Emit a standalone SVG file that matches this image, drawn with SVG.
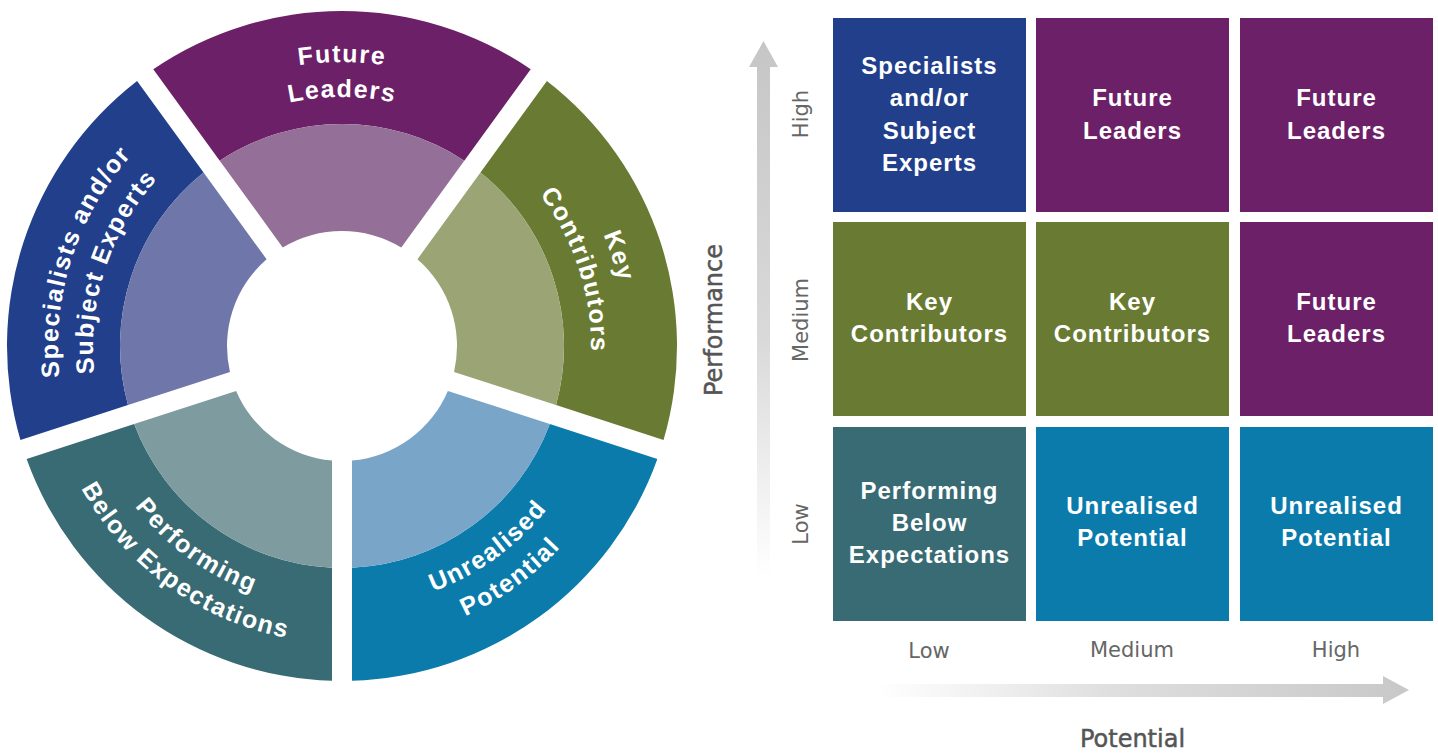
<svg xmlns="http://www.w3.org/2000/svg" width="1438" height="755" viewBox="0 0 1438 755">
<defs>
<style>
.w { font-family: "Liberation Sans", Arial, sans-serif; font-weight: bold; fill: #ffffff; }
.wheel { font-size: 25px; letter-spacing: 1.5px; text-anchor: middle; }
.cell { font-size: 24px; letter-spacing: 1px; text-anchor: middle; }
.ax { font-family: "DejaVu Sans", sans-serif; font-size: 21px; fill: #666666; text-anchor: middle; }
.axt { font-family: "DejaVu Sans", sans-serif; font-size: 24px; fill: #555555; stroke: #555555; stroke-width: 0.5px; text-anchor: middle; }
</style>
<path id="dark" d="M -188.73,-276.78 A 335 335 0 0 1 188.73,-276.78 L 122.27,-185.30 A 222 222 0 0 0 -122.27,-185.30 Z"/>
<path id="light" d="M -122.27,-185.30 A 222 222 0 0 1 122.27,-185.30 L 59.25,-98.56 A 115 115 0 0 0 -59.25,-98.56 Z"/>
<path id="tOut1" d="M -245.95,-142 A 284 284 0 0 1 245.95,-142"/>
<path id="tOut2" d="M -215.64,-124.5 A 249 249 0 0 1 215.64,-124.5"/>
<path id="tIn1" d="M 226.90,-131 A 262 262 0 0 0 -226.90,-131"/>
<path id="tIn2" d="M 257.21,-148.5 A 297 297 0 0 0 -257.21,-148.5"/>
<linearGradient id="gv" x1="0" y1="42" x2="0" y2="578" gradientUnits="userSpaceOnUse">
<stop offset="0" stop-color="#c6c6c6"/>
<stop offset="0.55" stop-color="#d9d9d9"/>
<stop offset="1" stop-color="#ffffff"/>
</linearGradient>
<linearGradient id="gh" x1="878" y1="0" x2="1409" y2="0" gradientUnits="userSpaceOnUse">
<stop offset="0" stop-color="#ffffff"/>
<stop offset="0.45" stop-color="#dedede"/>
<stop offset="1" stop-color="#c8c8c8"/>
</linearGradient>
</defs>
<rect width="1438" height="755" fill="#ffffff"/>

<g id="wheel">
<g id="seg-future-leaders" transform="translate(342,346)">
<use href="#dark" fill="#6b2067"/>
<use href="#light" fill="#946f97"/>
<text class="w wheel"><textPath href="#tOut1" startOffset="50%">Future</textPath></text>
<text class="w wheel"><textPath href="#tOut2" startOffset="50%">Leaders</textPath></text>
</g>
<g id="seg-key-contributors" transform="translate(342,346) rotate(72)">
<use href="#dark" fill="#697b32"/>
<use href="#light" fill="#9aa474"/>
<text class="w wheel"><textPath href="#tOut1" startOffset="50%">Key</textPath></text>
<text class="w wheel"><textPath href="#tOut2" startOffset="50%">Contributors</textPath></text>
</g>
<g id="seg-unrealised-potential" transform="translate(342,346) rotate(144)">
<use href="#dark" fill="#0b7bab"/>
<use href="#light" fill="#79a5c9"/>
<text class="w wheel"><textPath href="#tIn1" startOffset="50%">Unrealised</textPath></text>
<text class="w wheel"><textPath href="#tIn2" startOffset="50%">Potential</textPath></text>
</g>
<g id="seg-performing-below" transform="translate(342,346) rotate(216)">
<use href="#dark" fill="#386b74"/>
<use href="#light" fill="#7e9ba0"/>
<text class="w wheel"><textPath href="#tIn1" startOffset="50%">Performing</textPath></text>
<text class="w wheel"><textPath href="#tIn2" startOffset="50%">Below Expectations</textPath></text>
</g>
<g id="seg-specialists" transform="translate(342,346) rotate(288)">
<use href="#dark" fill="#213f8b"/>
<use href="#light" fill="#6f76a9"/>
<text class="w wheel"><textPath href="#tOut1" startOffset="50%">Specialists and/or</textPath></text>
<text class="w wheel"><textPath href="#tOut2" startOffset="50%">Subject Experts</textPath></text>
</g>
</g>

<g id="axes">
<path d="M763.5,41 L778,67 L770,67 L770,578 L757,578 L757,67 L749,67 Z" fill="url(#gv)"/>
<path d="M878,684 L1383,684 L1383,676 L1409,690 L1383,704 L1383,697 L878,697 Z" fill="url(#gh)"/>
<text class="axt" transform="translate(722,320) rotate(-90)">Performance</text>
<text class="ax" transform="translate(808,114) rotate(-90)">High</text>
<text class="ax" transform="translate(808,320) rotate(-90)">Medium</text>
<text class="ax" transform="translate(808,524) rotate(-90)">Low</text>
<text class="ax" x="929" y="658">Low</text>
<text class="ax" x="1132" y="657">Medium</text>
<text class="ax" x="1336" y="657">High</text>
<text class="axt" x="1132.5" y="747">Potential</text>
</g>

<g id="cell-high-low">
<rect x="833" y="18" width="193" height="194" fill="#213f8b"/>
<text class="w cell" x="929.5" y="74">Specialists</text>
<text class="w cell" x="929.5" y="106">and/or</text>
<text class="w cell" x="929.5" y="139">Subject</text>
<text class="w cell" x="929.5" y="171">Experts</text>
</g>
<g id="cell-high-medium">
<rect x="1036" y="18" width="193" height="194" fill="#6b2067"/>
<text class="w cell" x="1132.5" y="106">Future</text>
<text class="w cell" x="1132.5" y="139">Leaders</text>
</g>
<g id="cell-high-high">
<rect x="1240" y="18" width="193" height="194" fill="#6b2067"/>
<text class="w cell" x="1336.5" y="106">Future</text>
<text class="w cell" x="1336.5" y="139">Leaders</text>
</g>
<g id="cell-medium-low">
<rect x="833" y="222" width="193" height="194" fill="#697b32"/>
<text class="w cell" x="929.5" y="310">Key</text>
<text class="w cell" x="929.5" y="342">Contributors</text>
</g>
<g id="cell-medium-medium">
<rect x="1036" y="222" width="193" height="194" fill="#697b32"/>
<text class="w cell" x="1132.5" y="310">Key</text>
<text class="w cell" x="1132.5" y="342">Contributors</text>
</g>
<g id="cell-medium-high">
<rect x="1240" y="222" width="193" height="194" fill="#6b2067"/>
<text class="w cell" x="1336.5" y="310">Future</text>
<text class="w cell" x="1336.5" y="342">Leaders</text>
</g>
<g id="cell-low-low">
<rect x="833" y="427" width="193" height="194" fill="#386b74"/>
<text class="w cell" x="929.5" y="499">Performing</text>
<text class="w cell" x="929.5" y="531">Below</text>
<text class="w cell" x="929.5" y="563">Expectations</text>
</g>
<g id="cell-low-medium">
<rect x="1036" y="427" width="193" height="194" fill="#0b7bab"/>
<text class="w cell" x="1132.5" y="514">Unrealised</text>
<text class="w cell" x="1132.5" y="546">Potential</text>
</g>
<g id="cell-low-high">
<rect x="1240" y="427" width="193" height="194" fill="#0b7bab"/>
<text class="w cell" x="1336.5" y="514">Unrealised</text>
<text class="w cell" x="1336.5" y="546">Potential</text>
</g>
</svg>
